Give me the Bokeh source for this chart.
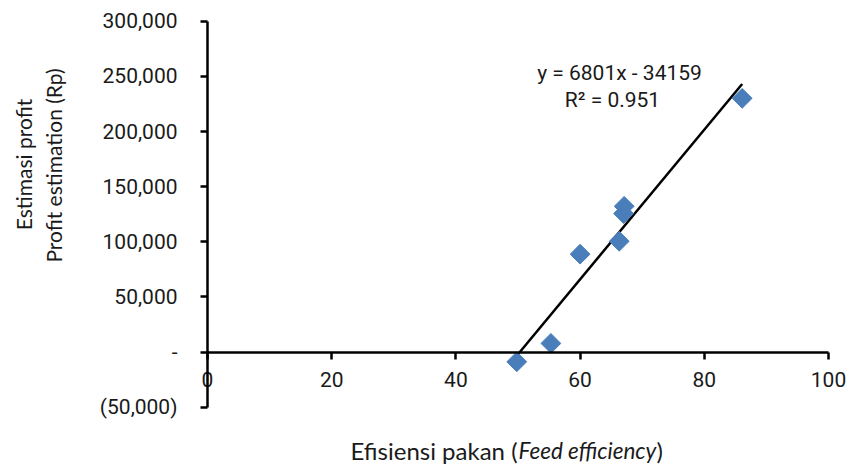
import numpy as np
from bokeh.plotting import figure
from bokeh.models import Range1d, FixedTicker, Label
from bokeh.embed import file_html
from bokeh.resources import INLINE

# ---- data ----
feed_efficiency = [49.8, 55.3, 60.0, 66.3, 67.0, 67.1, 86.1]
profit = [-8800, 7900, 88800, 100500, 125600, 132200, 230100]

x_ticks = [0, 20, 40, 60, 80, 100]
y_ticks = [-50000, 0, 50000, 100000, 150000, 200000, 250000, 300000]
y_tick_labels = ["(50,000)", "-", "50,000", "100,000", "150,000", "200,000", "250,000", "300,000"]

equation_text = "y = 6801x - 34159"
r2_text = "R\u00b2 = 0.951"
x_title_parts = ["Efisiensi pakan (", "Feed efficiency", ")"]
y_title_lines = ["Estimasi profit", "Profit estimation (Rp)"]

# ---- layout: frame covers the whole canvas, axes are placed at fixed locations ----
PX_PER_X = 6.21            # pixels per x unit
X0_PX = 207                # pixel of x = 0
Y_PER_PX = 50000 / 55.14   # y units per pixel
Y0_PX = 351.6              # pixel of y = 0
W, H = 850, 466

x_start = -X0_PX / PX_PER_X
x_end = (W - X0_PX) / PX_PER_X
y_end = Y0_PX * Y_PER_PX
y_start = (Y0_PX - H) * Y_PER_PX

p = figure(width=W, height=H, output_backend="svg", toolbar_location=None,
           x_range=Range1d(x_start, x_end), y_range=Range1d(y_start, y_end),
           min_border_left=0, min_border_right=0, min_border_top=0, min_border_bottom=0)
p.outline_line_color = None
p.grid.visible = False
p.background_fill_color = "white"
p.border_fill_color = "white"

TXT = "#1a1a1a"

xa = p.xaxis[0]
xa.fixed_location = 0
xa.bounds = (0, 100)
xa.ticker = FixedTicker(ticks=x_ticks)
xa.minor_tick_line_color = None
xa.axis_line_color = "black"
xa.axis_line_width = 2.5
xa.major_tick_line_width = 2.5
xa.major_tick_out = 7
xa.major_tick_in = 0
xa.major_label_standoff = 13
xa.major_label_text_font = "Roboto"
xa.major_label_text_font_size = "21px"
xa.major_label_text_color = TXT

ya = p.yaxis[0]
ya.fixed_location = 0
ya.bounds = (-50000, 300000)
ya.ticker = FixedTicker(ticks=y_ticks)
ya.major_label_overrides = {t: s for t, s in zip(y_ticks, y_tick_labels)}
ya.minor_tick_line_color = None
ya.axis_line_color = "black"
ya.axis_line_width = 2.5
ya.major_tick_line_width = 2.5
ya.major_tick_out = 7
ya.major_tick_in = 0
ya.major_label_standoff = 23
ya.major_label_text_font = "Roboto"
ya.major_label_text_font_size = "21px"
ya.major_label_text_color = TXT

# trendline (least squares over the data range)
slope, intercept = np.polyfit(feed_efficiency, profit, 1)
xs = np.array([min(feed_efficiency), max(feed_efficiency)])
p.line(xs, slope * xs + intercept, line_color="black", line_width=2.5)

# points
p.scatter(feed_efficiency, profit, marker="square", size=14, angle=np.pi / 4,
          fill_color="#4A7EBB", line_color="#4A7EBB")

# pixel -> data helpers for annotations
def dx(px):
    return (px - X0_PX) / PX_PER_X

def dy(py):
    return (Y0_PX - py) * Y_PER_PX

# equation labels
p.add_layout(Label(x=dx(619), y=dy(72), text=equation_text, text_align="center",
                   text_baseline="middle", text_font="Roboto", text_font_size="21px",
                   text_color=TXT))
p.add_layout(Label(x=dx(612), y=dy(99), text=r2_text, text_align="center",
                   text_baseline="middle", text_font="Roboto", text_font_size="21px",
                   text_color=TXT))

# x title (mixed styles)
base_y = dy(450)
p.add_layout(Label(x=dx(350), y=base_y, text=x_title_parts[0], text_align="left",
                   text_baseline="alphabetic", text_font="Lato", text_font_size="24px",
                   text_color=TXT))
p.add_layout(Label(x=dx(518), y=base_y, text=x_title_parts[1], text_align="left",
                   text_baseline="alphabetic", text_font="Lato", text_font_size="22.5px",
                   text_font_style="italic", text_color=TXT))
p.add_layout(Label(x=dx(656), y=base_y, text=x_title_parts[2], text_align="left",
                   text_baseline="alphabetic", text_font="Lato", text_font_size="24px",
                   text_color=TXT))

# y title (two rotated lines)
p.add_layout(Label(x=dx(23), y=dy(164), text=y_title_lines[0], angle=np.pi / 2,
                   text_align="center", text_baseline="middle", text_font="Lato",
                   text_font_size="21px", text_color=TXT))
p.add_layout(Label(x=dx(53), y=dy(165), text=y_title_lines[1], angle=np.pi / 2,
                   text_align="center", text_baseline="middle", text_font="Lato",
                   text_font_size="21px", text_color=TXT))

open("out.html", "w").write(file_html(p, INLINE))
